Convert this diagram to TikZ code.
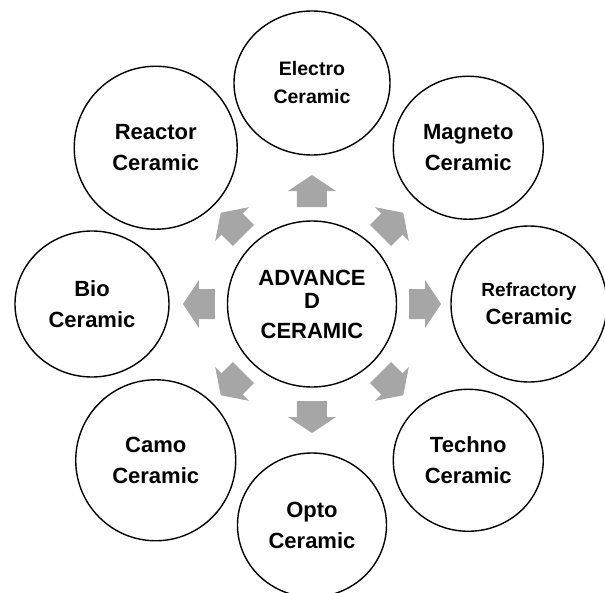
\documentclass[tikz,border=0pt]{standalone}
\usepackage{fontspec}
\setmainfont{Liberation Sans}
\usetikzlibrary{shapes.geometric,calc}

\definecolor{arrowgray}{HTML}{A6A6A6}

\begin{document}
\begin{tikzpicture}[x=1pt, y=1pt,
    bubble/.style 2 args={draw, ellipse, line width=1.4pt, inner sep=0pt,
      minimum width=#1pt, minimum height=#2pt, align=center,
      font=\bfseries\fontsize{22}{31}\selectfont}]
    \useasboundingbox (-312, -288) rectangle (293, 304);

    \node [bubble={169}{166}, font=\bfseries\fontsize{22}{30}\selectfont] (adv) at (0, 0) {ADVANCE\\[-7pt]D\\CERAMIC};

    \node [bubble={156}{144}, font=\bfseries\fontsize{19.5}{28}\selectfont] (electro) at (90:221) {Electro\\Ceramic};
    \node [bubble={150}{143}] (magneto) at (45:221) {Magneto\\Ceramic};
    \node [bubble={156}{156}, font=\bfseries\fontsize{22}{28}\selectfont] (refractory) at (0:217) {{\fontsize{19}{28}\selectfont Refractory}\\Ceramic};
    \node [bubble={150}{142}] (techno) at (-45:221) {Techno\\Ceramic};
    \node [bubble={149}{144}] (opto) at (-90:221) {Opto\\Ceramic};
    \node [bubble={160}{161}] (camo) at (-135:221) {Camo\\Ceramic};
    \node [bubble={154}{146}] (bio) at (180:220) {Bio\\Ceramic};
    \node [bubble={163}{163}] (reactor) at (135:221) {Reactor\\Ceramic};

    % block arrows from the centre outwards
    \foreach \name/\ang in {refractory/0, magneto/45, electro/90, reactor/135,
                           bio/180, camo/225, opto/270, techno/315}
      \fill [arrowgray, shift={($(adv)!113pt!(\name)$)}, rotate=\ang]
        (-16, -15) -- (0, -15) -- (0, -24) -- (16, 0) -- (0, 24) -- (0, 15) -- (-16, 15) -- cycle;
  \end{tikzpicture}
\end{document}
